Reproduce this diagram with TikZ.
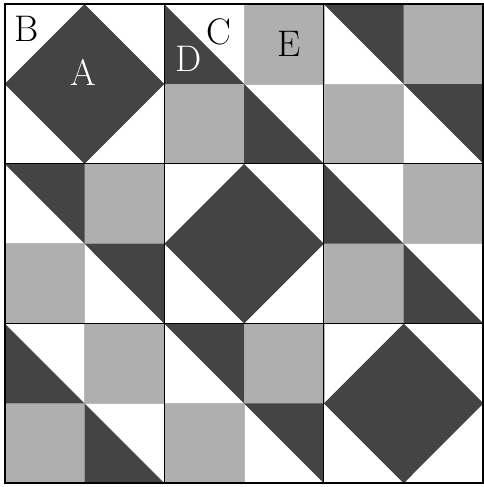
\documentclass[tikz,border=0pt]{standalone}
\begin{document}
\begin{tikzpicture}[x=1pt,y=1pt,
  darkfill/.style={fill=qdark},
  grayfill/.style={fill=qgray,draw=qgray!85!white,line width=0.8pt},
  blockline/.style={draw=black,line width=1pt},
  border/.style={draw=black,line width=2.4pt},
  lbl/.style={font=\fontsize{37}{40}\selectfont,inner sep=0pt}]
\definecolor{qdark}{HTML}{444444}
\definecolor{qgray}{HTML}{AFAFAF}
\useasboundingbox (0,0) rectangle (484,487);
\fill[white] (0,0) rectangle (484,487);
\begin{scope}[shift={(4.7,3.7)},x=79.8pt,y=79.85pt]
  % gray squares (column, row from top)
  \foreach \c/\r in {3/0,2/1,5/0,4/1,1/2,0/3,5/2,4/3,1/4,0/5,3/4,2/5}
    \path[grayfill] (\c,5-\r) rectangle (\c+1,6-\r);
  % dark triangles, lower-left half
  \foreach \c/\r in {2/0,3/1,4/2,5/3,0/4,1/5}
    \fill[qdark] (\c,6-\r) -- (\c,5-\r) -- (\c+1,5-\r) -- cycle;
  % dark triangles, upper-right half
  \foreach \c/\r in {4/0,5/1,0/2,1/3,2/4,3/5}
    \fill[qdark] (\c,6-\r) -- (\c+1,6-\r) -- (\c+1,5-\r) -- cycle;
  % diamonds
  \foreach \c/\r in {0/0,2/2,4/4}
    \fill[qdark] (\c+1,6-\r) -- (\c+2,5-\r) -- (\c+1,4-\r) -- (\c,5-\r) -- cycle;
  % block lines
  \foreach \k in {2,4} {
    \path[blockline] (\k,0) -- (\k,6);
    \path[blockline] (0,\k) -- (6,\k);
  }
  \coordinate (ll) at (0,0);
  \coordinate (ur) at (6,6);
  \path[border] (ll) rectangle (ur);
\end{scope}
\node[lbl] (B) at (27,458) {B};
\node[lbl,text=white] (A) at (83,414.5) {A};
\node[lbl] (C) at (218.5,455.5) {C};
\node[lbl,text=white] (D) at (189,428.5) {D};
\node[lbl] (E) at (289,443) {E};
\end{tikzpicture}
\end{document}
